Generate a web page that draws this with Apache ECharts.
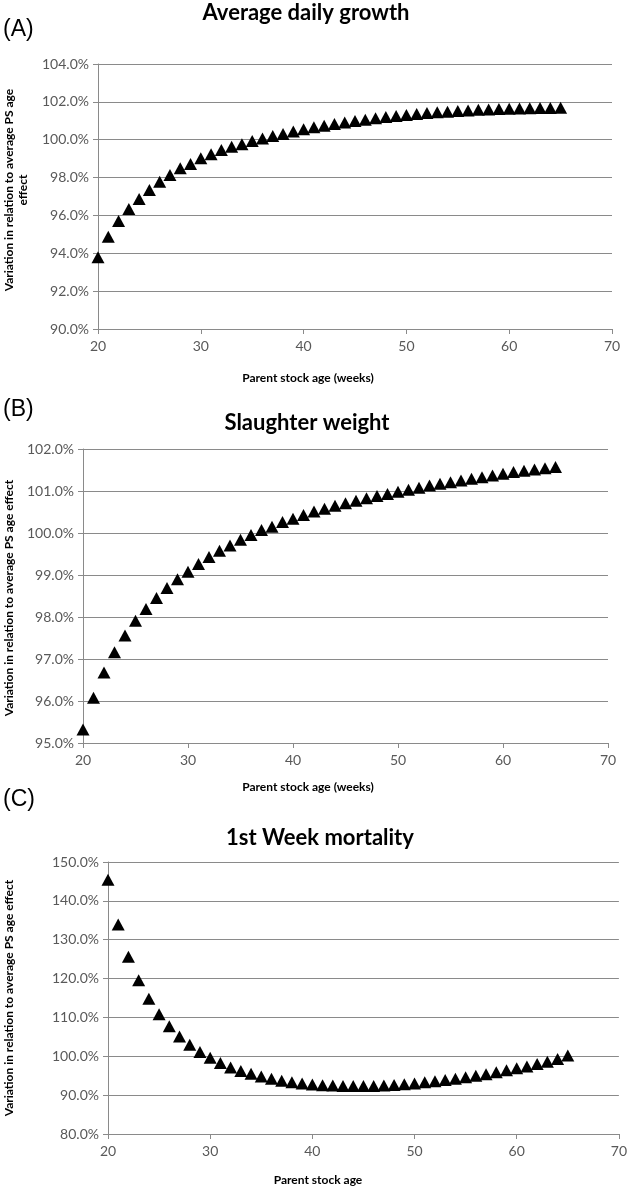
<!DOCTYPE html>
<html>
<head>
<meta charset="utf-8">
<script src="https://cdn.jsdelivr.net/npm/echarts@6/dist/echarts.min.js"></script>
<style>
html,body{margin:0;padding:0;background:#fff;}
#c{width:630px;height:1192px;}
</style>
</head>
<body>
<div id="c"></div>
<script>
// Parent stock age (weeks)
const ages = [20,21,22,23,24,25,26,27,28,29,30,31,32,33,34,35,36,37,38,39,40,41,42,43,44,45,46,47,48,49,50,51,52,53,54,55,56,57,58,59,60,61,62,63,64,65];

// (A) Average daily growth, % of average PS age effect
const adgValues = [93.79,94.88,95.71,96.34,96.87,97.34,97.78,98.14,98.49,98.72,99.02,99.23,99.46,99.63,99.76,99.93,100.07,100.20,100.30,100.43,100.55,100.66,100.74,100.83,100.91,100.99,101.06,101.13,101.20,101.25,101.31,101.36,101.41,101.45,101.48,101.52,101.55,101.58,101.60,101.62,101.64,101.65,101.66,101.67,101.68,101.69];

// (B) Slaughter weight
const swValues = [95.32,96.08,96.68,97.16,97.56,97.91,98.19,98.45,98.69,98.90,99.08,99.26,99.43,99.58,99.70,99.84,99.95,100.07,100.15,100.26,100.34,100.43,100.51,100.58,100.65,100.71,100.77,100.83,100.88,100.93,100.98,101.03,101.08,101.13,101.17,101.21,101.25,101.29,101.33,101.37,101.41,101.45,101.48,101.51,101.54,101.57];

// (C) 1st week mortality
const mortValues = [145.4,133.9,125.6,119.6,114.8,110.8,107.7,105.1,103.0,101.1,99.6,98.3,97.1,96.2,95.5,94.8,94.2,93.7,93.3,93.0,92.75,92.55,92.45,92.38,92.33,92.33,92.38,92.48,92.6,92.8,93.0,93.3,93.6,93.9,94.2,94.6,95.0,95.4,95.9,96.4,96.9,97.4,98.0,98.6,99.3,100.2];

const titles = ['Average daily growth', 'Slaughter weight', '1st Week mortality'];
const panelLabels = ['(A)', '(B)', '(C)'];
const xNames = ['Parent stock age (weeks)', 'Parent stock age (weeks)', 'Parent stock age'];
const yNameA = ['Variation in relation to average PS age', 'effect'];
const yName = 'Variation in relation to average PS age effect';
const xTicks = {min: 20, max: 70, interval: 10};
const yTicksA = {min: 90, max: 104, interval: 2};
const yTicksB = {min: 95, max: 102, interval: 1};
const yTicksC = {min: 80, max: 150, interval: 10};

const grids = [
  {left: 98, right: 18, top: 64, height: 265},
  {left: 83, right: 22, top: 449, height: 294},
  {left: 108, right: 9, top: 862, height: 272}
];

const axisColor = '#8a8a8a';
const labelColor = '#595959';
const FONT = 'Lato';

function xAxis(i) {
  return {
    type: 'value', gridIndex: i, min: xTicks.min, max: xTicks.max, interval: xTicks.interval,
    axisLine: {show: true, lineStyle: {color: axisColor, width: 1}},
    axisTick: {show: true, length: 5, lineStyle: {color: axisColor}},
    splitLine: {show: false},
    axisLabel: {color: labelColor, fontSize: 14, fontFamily: FONT, margin: 10}
  };
}
function yAxis(i, t) {
  return {
    type: 'value', gridIndex: i, min: t.min, max: t.max, interval: t.interval,
    axisLine: {show: true, lineStyle: {color: axisColor, width: 1}},
    axisTick: {show: true, length: 5, lineStyle: {color: axisColor}},
    splitLine: {show: true, lineStyle: {color: axisColor, width: 1.2}},
    axisLabel: {color: labelColor, fontSize: 14, fontFamily: FONT, margin: 9,
      formatter: v => v.toFixed(1) + '%'}
  };
}
function series(i, vals) {
  return {
    type: 'scatter', xAxisIndex: i, yAxisIndex: i,
    data: ages.map((a, k) => [a, vals[k]]),
    symbol: 'triangle', symbolSize: [13, 12],
    itemStyle: {color: '#000', opacity: 1},
    silent: true, animation: false
  };
}

const txt = (x, y, text, font, extra) => Object.assign({
  type: 'text', x: x, y: y,
  style: Object.assign({text: text, fill: '#000', textAlign: 'center', textVerticalAlign: 'middle'}, font)
}, extra || {});

const graphics = [
  txt(306, 13, titles[0], {font: 'bold 22px Lato'}),
  txt(307, 423, titles[1], {font: 'bold 22px Lato'}),
  txt(320, 838, titles[2], {font: 'bold 22px Lato'}),
  txt(3, 30, panelLabels[0], {font: '23px "Liberation Sans"', textAlign: 'left'}),
  txt(3, 410, panelLabels[1], {font: '23px "Liberation Sans"', textAlign: 'left'}),
  txt(3, 800, panelLabels[2], {font: '23px "Liberation Sans"', textAlign: 'left'}),
  txt(308, 378, xNames[0], {font: 'bold 12px Lato'}),
  txt(308, 787, xNames[1], {font: 'bold 12px Lato'}),
  txt(318, 1180, xNames[2], {font: 'bold 12px Lato'}),
  txt(9, 190, yNameA[0], {font: 'bold 12px Lato'}, {rotation: Math.PI / 2}),
  txt(23, 190, yNameA[1], {font: 'bold 12px Lato'}, {rotation: Math.PI / 2}),
  txt(9, 598, yName, {font: 'bold 12px Lato'}, {rotation: Math.PI / 2}),
  txt(9, 998, yName, {font: 'bold 12px Lato'}, {rotation: Math.PI / 2})
];

const chart = echarts.init(document.getElementById('c'), null, {renderer: 'canvas'});
chart.setOption({
  animation: false,
  backgroundColor: '#fff',
  grid: grids,
  xAxis: [xAxis(0), xAxis(1), xAxis(2)],
  yAxis: [yAxis(0, yTicksA), yAxis(1, yTicksB), yAxis(2, yTicksC)],
  series: [series(0, adgValues), series(1, swValues), series(2, mortValues)],
  graphic: graphics
});
</script>
</body>
</html>
